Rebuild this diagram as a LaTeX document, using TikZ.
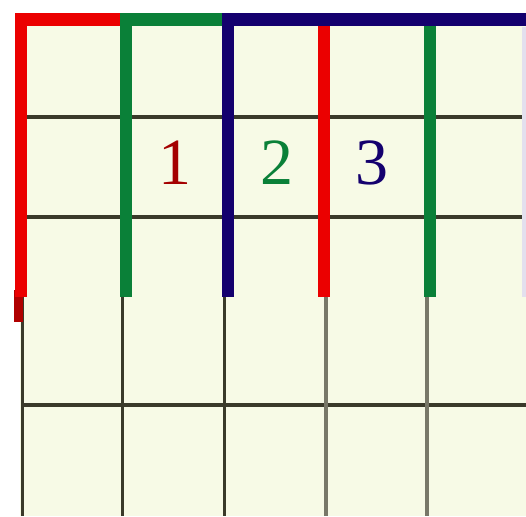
\documentclass[tikz,border=0pt]{standalone}
\usepackage{fontspec}
\setmainfont{Liberation Serif}

\definecolor{cream}{RGB}{247,250,230}
\definecolor{redline}{RGB}{235,0,0}
\definecolor{greenline}{RGB}{10,128,56}
\definecolor{navyline}{RGB}{20,0,110}
\definecolor{gridline}{RGB}{58,58,42}
\definecolor{greyline}{RGB}{120,120,104}

\begin{document}
\begin{tikzpicture}[x=1pt, y=-1pt,
    grid/.style={draw=gridline, line width=3.5pt},
    bar/.style={line width=12pt},
    lbl/.style={font=\fontsize{66}{66}\selectfont, inner sep=0pt}]
    \useasboundingbox (0,0) rectangle (526,516);
    % paper
    \fill[cream] (20,20) rectangle (526,516);

    % grid
    \foreach \y in {117,217,405}
        \draw[grid] (22,\y) -- (526,\y);
    \foreach \x in {22,122,224}
        \draw[grid, line width=3pt] (\x,297) -- (\x,516);
    \foreach \x in {326,427}
        \draw[grid, draw=greyline, line width=4pt] (\x,297) -- (\x,516);

    % red stub below the first column
    \draw[redline!75!black, line width=9pt] (18,290) -- (18,322);

    % coloured columns
    \foreach \x/\c in {21/redline, 126/greenline, 228/navyline, 324/redline, 430/greenline}
        \draw[bar, \c] (\x,20) -- (\x,297);
    \draw[navyline!12, line width=4pt] (524,27) -- (524,297);

    % top bars
    \draw[bar, line width=13pt, redline] (15,19.5) -- (120,19.5);
    \draw[bar, line width=13pt, greenline] (120,19.5) -- (222,19.5);
    \draw[bar, line width=13pt, navyline] (222,19.5) -- (526,19.5);

    \node[lbl, text=redline!70!black] (one) at (175,163) {1};
    \node[lbl, text=greenline] (two) at (277,163) {2};
    \node[lbl, text=navyline] (three) at (372,163) {3};
\end{tikzpicture}
\end{document}
